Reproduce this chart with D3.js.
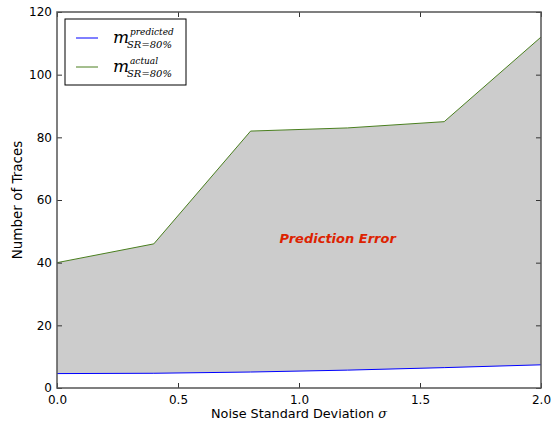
<!DOCTYPE html>
<html>
<head>
<meta charset="utf-8">
<script src="https://cdn.jsdelivr.net/npm/d3@7"></script>
<style>
  body { margin: 0; background: #fff; }
  text { font-family: "DejaVu Sans", sans-serif; }
  .math { font-family: "DejaVu Serif", serif; font-style: italic; }
</style>
</head>
<body>
<div id="chart"></div>
<script>
// noise levels and trace counts
const sigma = [0.0, 0.4, 0.8, 1.2, 1.6, 2.0];
const predicted = [4.6, 4.7, 5.1, 5.7, 6.5, 7.4];
const actual = [40, 46, 82, 83, 85, 112];
const xTicks = [0.0, 0.5, 1.0, 1.5, 2.0];
const yTicks = [0, 20, 40, 60, 80, 100, 120];

const W = 553, H = 424;
const margin = { top: 12, right: 12, bottom: 36, left: 57 };
const width = W - margin.left - margin.right;
const height = H - margin.top - margin.bottom;

const svg = d3.select("#chart").append("svg").attr("width", W).attr("height", H);
const g = svg.append("g").attr("transform", `translate(${margin.left},${margin.top})`);

const x = d3.scaleLinear().domain([0, 2]).range([0, width]);
const y = d3.scaleLinear().domain([0, 120]).range([height, 0]);

const rows = sigma.map((s, i) => ({ s, p: predicted[i], a: actual[i] }));

// shaded gap between predicted and actual
g.append("path")
  .datum(rows)
  .attr("fill", "#cccccc")
  .attr("d", d3.area().x(d => x(d.s)).y0(d => y(d.p)).y1(d => y(d.a)));

const line = key => d3.line().x(d => x(d.s)).y(d => y(d[key]));
g.append("path").datum(rows).attr("fill", "none").attr("stroke", "#0000ff").attr("stroke-width", 1).attr("d", line("p"));
g.append("path").datum(rows).attr("fill", "none").attr("stroke", "#4a7f1f").attr("stroke-width", 1).attr("d", line("a"));

g.append("text")
  .attr("x", x(1.16)).attr("y", y(47.5))
  .attr("text-anchor", "middle")
  .attr("dominant-baseline", "middle")
  .attr("fill", "#dd2200")
  .attr("font-size", 13).attr("font-weight", "bold").attr("font-style", "italic")
  .text("Prediction Error");

// axes, matplotlib classic style: ticks inward on all sides
const styleAxis = sel => {
  sel.select(".domain").remove();
  sel.selectAll("line").attr("stroke", "#333");
  sel.selectAll("text").attr("font-size", 12).attr("fill", "#000");
};
g.append("g").attr("transform", `translate(0,${height})`)
  .call(d3.axisBottom(x).tickValues(xTicks).tickFormat(d3.format(".1f")).tickSizeInner(-5).tickPadding(7))
  .call(styleAxis);
g.append("g")
  .call(d3.axisTop(x).tickValues(xTicks).tickFormat("").tickSizeInner(-5))
  .call(styleAxis);
g.append("g")
  .call(d3.axisLeft(y).tickValues(yTicks).tickSizeInner(-5).tickPadding(5))
  .call(styleAxis);
g.append("g").attr("transform", `translate(${width},0)`)
  .call(d3.axisRight(y).tickValues(yTicks).tickFormat("").tickSizeInner(-5))
  .call(styleAxis);

g.append("rect").attr("width", width).attr("height", height)
  .attr("fill", "none").attr("stroke", "#555").attr("stroke-width", 1.5);

svg.append("text")
  .attr("x", margin.left + width / 2).attr("y", H - 6)
  .attr("text-anchor", "middle").attr("font-size", 12.8)
  .html('Noise Standard Deviation <tspan class="math">σ</tspan>');

svg.append("text")
  .attr("transform", `translate(22,${margin.top + height / 2}) rotate(-90)`)
  .attr("text-anchor", "middle").attr("font-size", 13.5)
  .text("Number of Traces");

// legend
const leg = g.append("g").attr("transform", "translate(8,7)");
leg.append("rect").attr("width", 121).attr("height", 66)
  .attr("fill", "#fff").attr("stroke", "#000").attr("stroke-width", 1);
const entries = [
  { sup: "predicted", color: "#0000ff", yy: 19 },
  { sup: "actual", color: "#4a7f1f", yy: 48 }
];
entries.forEach(e => {
  leg.append("line").attr("x1", 11).attr("x2", 33).attr("y1", e.yy).attr("y2", e.yy)
    .attr("stroke", e.color).attr("stroke-width", 1);
  leg.append("text").attr("class", "math").attr("x", 48).attr("y", e.yy + 5).attr("font-size", 17).text("m");
  leg.append("text").attr("class", "math").attr("x", 65).attr("y", e.yy - 3).attr("font-size", 9).text(e.sup);
  leg.append("text").attr("class", "math").attr("x", 62).attr("y", e.yy + 10).attr("font-size", 10).text("SR=80%");
});
</script>
</body>
</html>
